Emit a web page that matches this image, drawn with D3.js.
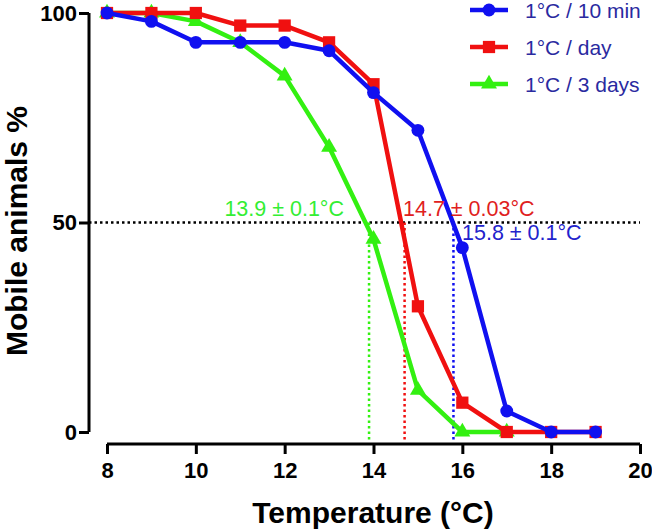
<!DOCTYPE html>
<html>
<head>
<meta charset="UTF-8">
<style>
  body { margin: 0; background: white; }
  svg { font-family: Arial, "Liberation Sans", sans-serif; }
</style>
</head>
<body>
<svg></svg>
<script src="https://d3js.org/d3.v7.min.js"></script>
<script>

let width = 652, height = 529;

// data
let temps = [8, 9, 10, 11, 12, 13, 14, 15, 16, 17, 18, 19];
let rate10min = [100, 98, 93, 93, 93, 91, 81, 72, 44, 5, 0, 0];
let rateDay = [100, 100, 100, 97, 97, 93, 83, 30, 7, 0, 0, 0];
let temps3days = [8, 9, 10, 11, 12, 13, 14, 15, 16, 17];
let rate3days = [100, 100, 98, 93, 85, 68, 46, 10, 0, 0];
let seriesNames = ["1°C / 10 min", "1°C / day", "1°C / 3 days"];
let seriesColors = ["#1010f0", "#f01010", "#33f011"];
let t50 = [15.8, 14.7, 13.9];
let t50Labels = ["15.8 ± 0.1°C", "14.7 ± 0.03°C", "13.9 ± 0.1°C"];
let xTicks = [8, 10, 12, 14, 16, 18, 20];
let yTicks = [0, 50, 100];

let svg = d3.select("svg").attr("width", width).attr("height", height);

let x = d3.scaleLinear().domain([8, 20]).range([107, 640]);
let y = d3.scaleLinear().domain([0, 100]).range([432, 13]);

// axes (GraphPad style, x axis offset below)
let yAxis = svg.append("g")
    .attr("transform", "translate(89,0)")
    .call(d3.axisLeft(y).tickValues(yTicks).tickSize(10).tickPadding(2));
let xAxis = svg.append("g")
    .attr("transform", "translate(0,444)")
    .call(d3.axisBottom(x).tickValues(xTicks).tickSize(10).tickPadding(8));

[xAxis, yAxis].forEach(a => {
    a.select(".domain").attr("stroke", "black").attr("stroke-width", 3);
    a.selectAll(".tick line").attr("stroke", "black").attr("stroke-width", 3);
    a.selectAll(".tick text")
        .attr("fill", "black")
        .style("font-size", "22px")
        .style("font-weight", "bold")
        .style("font-family", "Arial, 'Liberation Sans', sans-serif");
});
// remove the outer ticks at ends of domain path
xAxis.select(".domain").attr("d", "M" + x(8) + ",0H" + x(20));
yAxis.select(".domain").attr("d", "M0," + y(0) + "V" + y(100));

// 50% dotted line
svg.append("line")
    .attr("x1", 89).attr("x2", x(20))
    .attr("y1", y(50)).attr("y2", y(50))
    .attr("stroke", "black").attr("stroke-width", 2.5)
    .attr("stroke-dasharray", "2.5,3");

// vertical dotted lines at T50
t50.forEach((t, i) => {
    svg.append("line")
        .attr("x1", x(t)).attr("x2", x(t))
        .attr("y1", y(50)).attr("y2", 442)
        .attr("stroke", seriesColors[i]).attr("stroke-width", 2.5)
        .attr("stroke-dasharray", "2.5,3");
});

let series = [
    { xs: temps, ys: rate10min, shape: d3.symbolCircle, size: 130 },
    { xs: temps, ys: rateDay, shape: d3.symbolSquare, size: 150 },
    { xs: temps3days, ys: rate3days, shape: d3.symbolTriangle, size: 110 }
];

let line = d3.line().x(d => x(d[0])).y(d => y(d[1]));

// draw green first, then red, then blue on top
[2, 1, 0].forEach(i => {
    let s = series[i];
    let pts = s.xs.map((v, j) => [v, s.ys[j]]);
    svg.append("path")
        .attr("d", line(pts))
        .attr("fill", "none")
        .attr("stroke", seriesColors[i])
        .attr("stroke-width", 4.5)
        .attr("stroke-linejoin", "round");
    svg.selectAll(null)
        .data(pts)
        .enter()
        .append("path")
        .attr("d", d3.symbol().type(s.shape).size(s.size))
        .attr("transform", d => "translate(" + x(d[0]) + "," + y(d[1]) + ")")
        .attr("fill", seriesColors[i]);
});

// T50 labels
let labelPos = [[462, 240, "start"], [403, 216, "start"], [344, 216, "end"]];
let labelColors = ["#2222cc", "#e02020", "#33ee33"];
t50Labels.forEach((lab, i) => {
    svg.append("text")
        .attr("x", labelPos[i][0]).attr("y", labelPos[i][1])
        .attr("text-anchor", labelPos[i][2])
        .attr("fill", labelColors[i])
        .style("font-size", "21.5px")
        .text(lab);
});

// legend
let legend = svg.append("g");
seriesNames.forEach((name, i) => {
    let ly = 10 + i * 37;
    legend.append("line")
        .attr("x1", 470).attr("x2", 508)
        .attr("y1", ly).attr("y2", ly)
        .attr("stroke", seriesColors[i]).attr("stroke-width", 4.5);
    legend.append("path")
        .attr("d", d3.symbol().type(series[i].shape).size(series[i].size))
        .attr("transform", "translate(489," + ly + ")")
        .attr("fill", seriesColors[i]);
    legend.append("text")
        .attr("x", 525).attr("y", ly)
        .attr("dy", "0.36em")
        .attr("fill", "#2a2aa0")
        .style("font-size", "21px")
        .text(name);
});

// axis titles
svg.append("text")
    .attr("x", 373).attr("y", 523)
    .attr("text-anchor", "middle")
    .style("font-size", "30px")
    .style("font-weight", "bold")
    .text("Temperature (°C)");

svg.append("text")
    .attr("transform", "translate(27,231) rotate(-90)")
    .attr("text-anchor", "middle")
    .style("font-size", "30px")
    .style("font-weight", "bold")
    .text("Mobile animals %");

</script>
</body>
</html>
